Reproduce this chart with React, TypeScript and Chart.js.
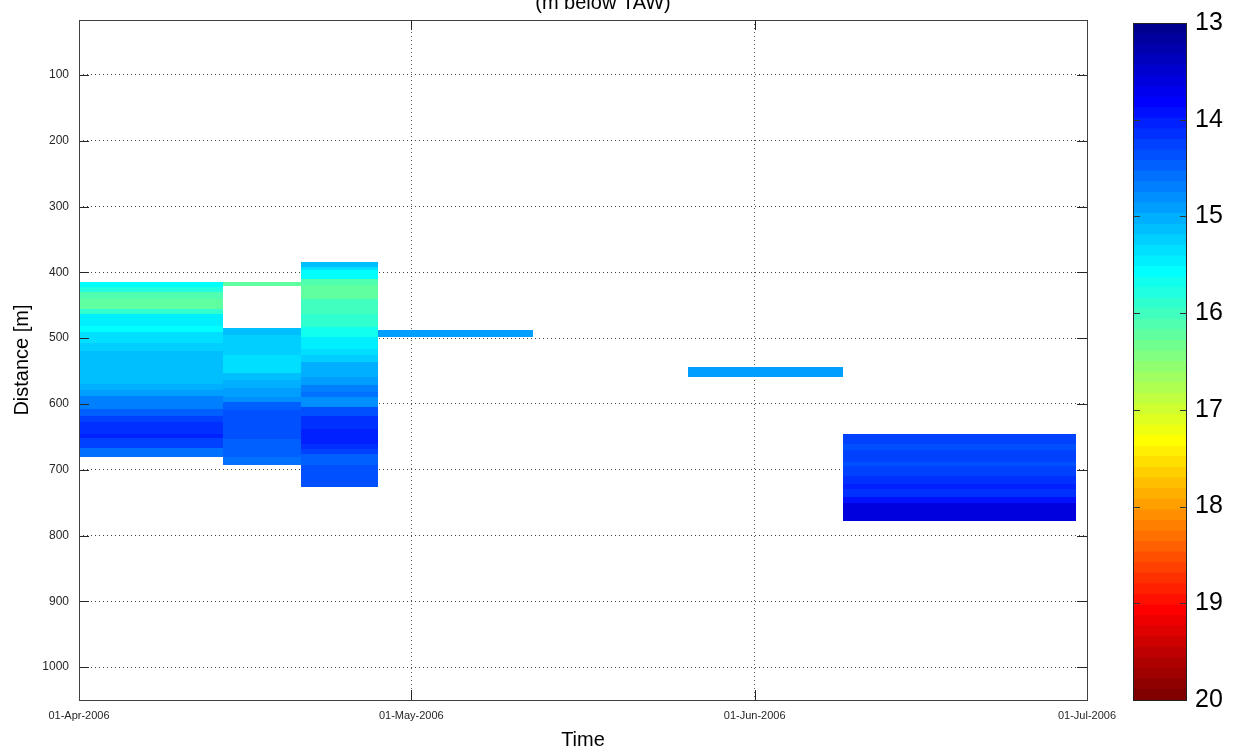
import React, { useEffect, useRef } from 'react';
import { Chart, registerables } from 'chart.js';

Chart.register(...registerables);

// ---------------- DATA ----------------
const TITLE = '(m below TAW)';
const X_TITLE = 'Time';
const Y_TITLE = 'Distance [m]';

// Measurement time edges (pcolor column boundaries)
const TIME_EDGES = ['2006-04-01', '2006-04-14', '2006-04-21', '2006-04-28', '2006-05-12', '2006-05-26', '2006-06-09', '2006-06-30'];

// X tick dates
const X_TICK_DATES = ['2006-04-01', '2006-05-01', '2006-06-01', '2006-07-01'];
// Y tick values (distance, m)
const Y_TICKS = [100, 200, 300, 400, 500, 600, 700, 800, 900, 1000];
const Y_MIN = 16.5;
const Y_MAX = 1050;
// Colorbar ticks (temperature)
const CB_TICKS = [13, 14, 15, 16, 17, 18, 19, 20];
const T_MIN = 13;
const T_MAX = 20;
const N_COLORS = 64;

// Column 1: 01-Apr -> 14-Apr
const COL1_DEPTH = [414, 422, 430, 440, 455, 464, 481, 490, 508, 520, 569, 579, 588, 607, 619, 627, 645, 652, 667, 680];
const COL1_TEMP = [15.57, 15.79, 16.12, 16.23, 15.9, 15.46, 15.57, 15.35, 15.24, 15.13, 15.02, 14.91, 14.7, 14.48, 14.26, 14.15, 14.04, 14.26, 14.59];

// Column 2: 14-Apr -> 21-Apr (null = no data)
const COL2_DEPTH = [414, 421, 485, 495, 526, 553, 563, 576, 589, 597, 610, 653, 681, 693];
const COL2_TEMP = [16.23, null, 15.13, 15.24, 15.35, 15.13, 15.02, 14.91, 14.8, 14.48, 14.37, 14.48, 14.59];

// Column 3: 21-Apr -> 28-Apr
const COL3_DEPTH = [385, 392, 397, 410, 420, 440, 463, 483, 498, 516, 526, 536, 559, 572, 582, 590, 605, 618, 638, 661, 668, 676, 693, 727];
const COL3_TEMP = [15.13, 15.35, 15.57, 16.12, 16.23, 16.01, 15.9, 15.68, 15.46, 15.35, 15.24, 15.02, 14.91, 14.7, 14.59, 14.8, 14.37, 14.15, 14.04, 14.15, 14.26, 14.48, 14.37];

// Column 4: 28-Apr -> 12-May
const COL4_DEPTH = [487, 499];
const COL4_TEMP = [14.91];

// Column 5: 12-May -> 26-May (no data)
const COL5_DEPTH: number[] = [];
const COL5_TEMP: (number | null)[] = [];

// Column 6: 26-May -> 09-Jun
const COL6_DEPTH = [544, 559];
const COL6_TEMP = [14.91];

// Column 7: 09-Jun -> 30-Jun
const COL7_DEPTH = [645, 661, 670, 689, 694, 709, 722, 729, 742, 750, 778];
const COL7_TEMP = [14.26, 14.37, 14.26, 14.37, 14.26, 14.15, 14.04, 14.15, 13.93, 13.6];

const COLUMNS = [
  { depth: COL1_DEPTH, temp: COL1_TEMP },
  { depth: COL2_DEPTH, temp: COL2_TEMP },
  { depth: COL3_DEPTH, temp: COL3_TEMP },
  { depth: COL4_DEPTH, temp: COL4_TEMP },
  { depth: COL5_DEPTH, temp: COL5_TEMP },
  { depth: COL6_DEPTH, temp: COL6_TEMP },
  { depth: COL7_DEPTH, temp: COL7_TEMP },
];

// ---------------- HELPERS ----------------
const FONT = '"Liberation Sans", Arial, Helvetica, sans-serif';
const MONTHS = ['Jan', 'Feb', 'Mar', 'Apr', 'May', 'Jun', 'Jul', 'Aug', 'Sep', 'Oct', 'Nov', 'Dec'];

function toMs(s: string): number {
  const [y, m, d] = s.split('-').map(Number);
  return Date.UTC(y, m - 1, d);
}
function fmtDate(ms: number): string {
  const d = new Date(ms);
  const dd = String(d.getUTCDate()).padStart(2, '0');
  return `${dd}-${MONTHS[d.getUTCMonth()]}-${d.getUTCFullYear()}`;
}

// MATLAB jet colormap, row k in 1..64
function jet(k: number): string {
  let r = 0, g = 0, b = 0;
  if (k <= 8) b = (k + 8) / 16;
  else if (k <= 24) { b = 1; g = (k - 8) / 16; }
  else if (k <= 40) { g = 1; r = (k - 24) / 16; b = (40 - k) / 16; }
  else if (k <= 56) { r = 1; g = (56 - k) / 16; }
  else r = (72 - k) / 16;
  const c = (v: number) => Math.round(Math.max(0, Math.min(1, v)) * 255);
  return `rgb(${c(r)},${c(g)},${c(b)})`;
}
function tempColor(t: number): string {
  let idx = Math.floor(((t - T_MIN) / (T_MAX - T_MIN)) * N_COLORS);
  idx = Math.max(0, Math.min(N_COLORS - 1, idx));
  return jet(idx + 1);
}

// ---------------- PLUGINS ----------------
const cellPlugin = {
  id: 'pcolorCells',
  beforeDatasetsDraw(chart: any) {
    const { ctx, chartArea: a, scales } = chart;
    const x = scales.x;
    const y = scales.y;
    ctx.save();
    ctx.beginPath();
    ctx.rect(a.left, a.top, a.right - a.left, a.bottom - a.top);
    ctx.clip();
    COLUMNS.forEach((col, c) => {
      const x0 = Math.round(x.getPixelForValue(toMs(TIME_EDGES[c])));
      const x1 = Math.round(x.getPixelForValue(toMs(TIME_EDGES[c + 1])));
      col.temp.forEach((t, j) => {
        if (t === null || t === undefined) return;
        const y0 = Math.round(y.getPixelForValue(col.depth[j]));
        const y1 = Math.round(y.getPixelForValue(col.depth[j + 1]));
        ctx.fillStyle = tempColor(t);
        ctx.fillRect(x0, Math.min(y0, y1), x1 - x0, Math.abs(y1 - y0));
      });
    });
    ctx.restore();
  },
};

const framePlugin = {
  id: 'matlabFrame',
  afterDraw(chart: any) {
    const { ctx, chartArea: a, scales } = chart;
    const x = scales.x;
    const y = scales.y;
    const L = 10;
    ctx.save();
    ctx.strokeStyle = '#262626';
    ctx.lineWidth = 1;
    ctx.beginPath();
    y.ticks.forEach((t: any) => {
      const py = Math.round(y.getPixelForValue(t.value)) + 0.5;
      ctx.moveTo(a.left, py); ctx.lineTo(a.left + L, py);
      ctx.moveTo(a.right, py); ctx.lineTo(a.right - L, py);
    });
    x.ticks.forEach((t: any) => {
      const px = Math.round(x.getPixelForValue(t.value)) + 0.5;
      ctx.moveTo(px, a.top); ctx.lineTo(px, a.top + L);
      ctx.moveTo(px, a.bottom); ctx.lineTo(px, a.bottom - L);
    });
    ctx.stroke();
    ctx.strokeStyle = '#404040';
    ctx.strokeRect(Math.round(a.left) + 0.5, Math.round(a.top) + 0.5, Math.round(a.right - a.left), Math.round(a.bottom - a.top));
    ctx.fillStyle = '#000';
    ctx.font = `20px ${FONT}`;
    ctx.textAlign = 'center';
    ctx.textBaseline = 'alphabetic';
    ctx.fillText(TITLE, 603, 9);
    ctx.restore();
  },
};

const cbFramePlugin = {
  id: 'cbFrame',
  afterDraw(chart: any) {
    const { ctx, chartArea: a, scales } = chart;
    const y = scales.y;
    const L = 7;
    ctx.save();
    ctx.strokeStyle = '#333';
    ctx.lineWidth = 1;
    ctx.beginPath();
    CB_TICKS.slice(1, -1).forEach((v) => {
      const py = Math.round(y.getPixelForValue(v)) + 0.5;
      ctx.moveTo(a.left, py); ctx.lineTo(a.left + L, py);
      ctx.moveTo(a.right, py); ctx.lineTo(a.right - L, py);
    });
    ctx.stroke();
    ctx.strokeStyle = '#222';
    ctx.strokeRect(Math.round(a.left) + 0.5, Math.round(a.top) + 0.5, Math.round(a.right - a.left) - 1, Math.round(a.bottom - a.top));
    ctx.restore();
  },
};

// ---------------- COMPONENT ----------------
export default function App() {
  const mainRef = useRef<HTMLCanvasElement | null>(null);
  const cbRef = useRef<HTMLCanvasElement | null>(null);

  useEffect(() => {
    if (!mainRef.current || !cbRef.current) return;
    Chart.defaults.font.family = FONT;

    const main = new Chart(mainRef.current, {
      type: 'scatter',
      data: { datasets: [] },
      options: {
        responsive: false,
        animation: false,
        devicePixelRatio: 1,
        layout: { padding: { left: 0, right: 149, top: 20, bottom: 0 } },
        plugins: { legend: { display: false }, tooltip: { enabled: false }, title: { display: false } },
        scales: {
          x: {
            type: 'linear',
            min: toMs(X_TICK_DATES[0]),
            max: toMs(X_TICK_DATES[X_TICK_DATES.length - 1]),
            afterBuildTicks: (s: any) => { s.ticks = X_TICK_DATES.map((d) => ({ value: toMs(d) })); },
            afterFit: (s: any) => { s.height = 56; },
            ticks: { callback: (v: any) => fmtDate(Number(v)), font: { size: 11 }, color: '#262626', padding: 9, maxRotation: 0, autoSkip: false },
            grid: { color: 'rgba(0,0,0,0.65)', lineWidth: 1, drawTicks: false },
            border: { display: false, dash: [1, 3] },
            title: { display: true, text: X_TITLE, font: { size: 20 }, color: '#000', padding: { top: 0, bottom: 4 } },
          },
          y: {
            type: 'linear',
            reverse: true,
            min: Y_MIN,
            max: Y_MAX,
            afterBuildTicks: (s: any) => { s.ticks = Y_TICKS.map((v) => ({ value: v })); },
            afterFit: (s: any) => { s.width = 79; },
            ticks: { callback: (v: any) => String(v), font: { size: 12 }, color: '#262626', padding: 10 },
            grid: { color: 'rgba(0,0,0,0.75)', lineWidth: 1, drawTicks: false },
            border: { display: false, dash: [1, 3] },
            title: { display: true, text: Y_TITLE, font: { size: 20 }, color: '#000', padding: { top: 10, bottom: 0 } },
          },
        },
      },
      plugins: [cellPlugin, framePlugin],
    } as any);

    // Colormap bands; datasets listed from the bottom band upward so that
    // the band covering [lo, max] drawn last is the lowest-value one on top.
    const step = (T_MAX - T_MIN) / N_COLORS;
    const cbDatasets = Array.from({ length: N_COLORS }, (_, j) => {
      const i = N_COLORS - 1 - j;
      return {
        data: [[T_MIN + i * step, T_MAX]],
        backgroundColor: jet(i + 1),
        borderWidth: 0,
        grouped: false,
        barPercentage: 1,
        categoryPercentage: 1,
      };
    });

    const cb = new Chart(cbRef.current, {
      type: 'bar',
      data: { labels: [''], datasets: cbDatasets },
      options: {
        responsive: false,
        animation: false,
        devicePixelRatio: 1,
        layout: { padding: { left: 23, right: 0, top: 20, bottom: 56 } },
        plugins: { legend: { display: false }, tooltip: { enabled: false } },
        scales: {
          x: { display: false },
          y: {
            position: 'right',
            reverse: true,
            min: T_MIN,
            max: T_MAX,
            afterBuildTicks: (s: any) => { s.ticks = CB_TICKS.map((v) => ({ value: v })); },
            afterFit: (s: any) => { s.width = 49; },
            ticks: { font: { size: 25 }, color: '#000', padding: 8 },
            grid: { display: false, drawTicks: false },
            border: { display: false },
          },
        },
      },
      plugins: [cbFramePlugin],
    } as any);

    return () => {
      main.destroy();
      cb.destroy();
    };
  }, []);

  return (
    <div style={{ position: 'fixed', left: 0, top: 0, width: 1236, height: 756, background: '#fff', overflow: 'hidden' }}>
      <canvas ref={mainRef} width={1236} height={756} style={{ position: 'absolute', left: 0, top: 0 }} />
      <canvas ref={cbRef} width={126} height={756} style={{ position: 'absolute', left: 1110, top: 0 }} />
    </div>
  );
}
